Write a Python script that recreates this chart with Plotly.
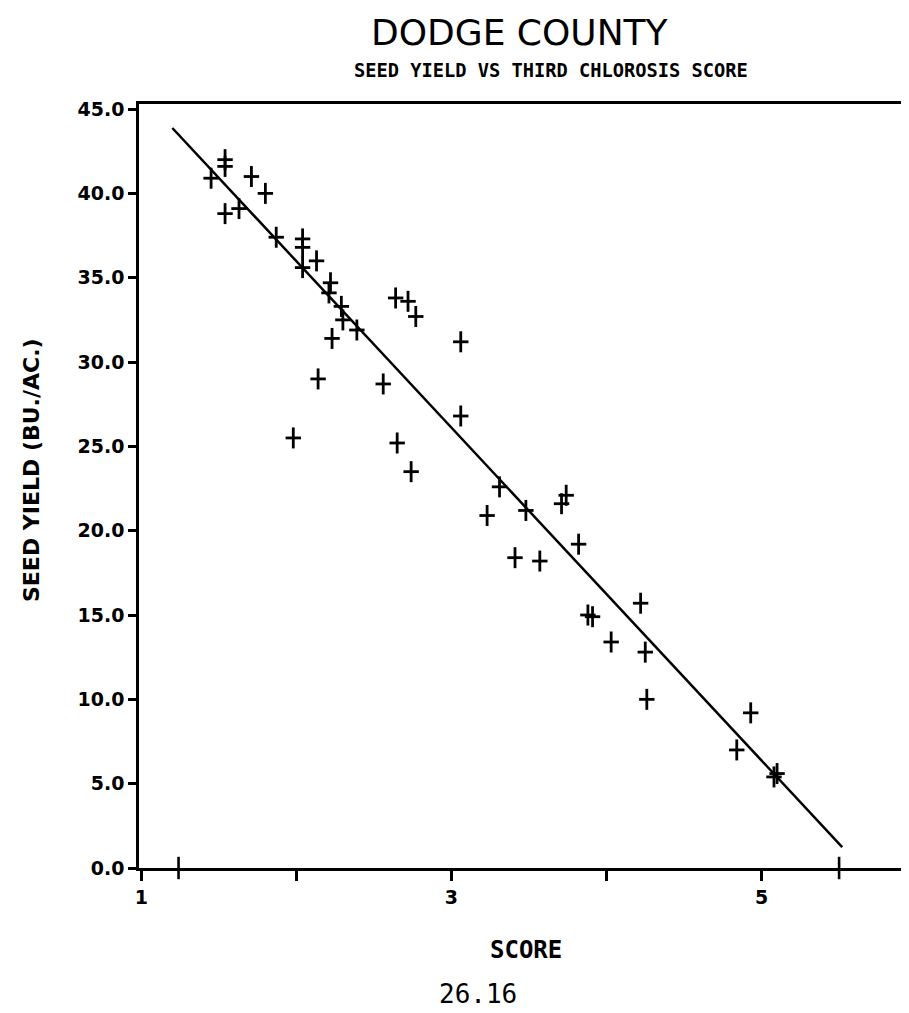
import plotly.graph_objects as go

# Data
score = [1.45, 1.54, 1.54, 1.54, 1.63, 1.71, 1.80, 1.87, 2.04, 2.04, 2.04, 2.13,
         2.22, 2.21, 2.29, 2.30, 2.39, 2.23, 2.14, 1.98, 2.56, 2.64, 2.72, 2.77,
         2.65, 2.74, 3.06, 3.06, 3.31, 3.23, 3.48, 3.71, 3.74, 3.82, 3.41, 3.57,
         3.88, 3.91, 4.03, 4.22, 4.25, 4.26, 4.93, 4.84, 5.08, 5.10]
seed_yield = [40.9, 42.0, 41.6, 38.8, 39.1, 41.0, 40.0, 37.4, 37.3, 36.8, 35.6, 36.0,
              34.7, 34.1, 33.3, 32.5, 31.9, 31.4, 29.0, 25.5, 28.7, 33.8, 33.6, 32.7,
              25.2, 23.5, 31.2, 26.8, 22.6, 20.9, 21.2, 21.6, 22.1, 19.2, 18.4, 18.2,
              15.0, 14.9, 13.4, 15.7, 12.8, 10.0, 9.2, 7.0, 5.4, 5.6]

fit_x = [1.2, 5.52]
fit_intercept = 55.72
fit_slope = -9.87
range_marks = [1.24, 5.5]

x_tickvals = [1, 2, 3, 4, 5]
x_ticktext = ["1", "", "3", "", "5"]
y_tickvals = [0, 5, 10, 15, 20, 25, 30, 35, 40, 45]
y_ticktext = ["%.1f" % v for v in y_tickvals]

fit_y = [fit_intercept + fit_slope * v for v in fit_x]

# page has an 8px body margin; compensate so the picture lines up with the window
OFF = 8
W, H = 909 - OFF, 1013 - OFF
l, r, t, b = 139 - OFF, 4, 104 - OFF, 145
pw, ph = W - l - r, H - t - b

fig = go.Figure()
fig.add_trace(go.Scatter(x=fit_x, y=fit_y, mode="lines",
                         line=dict(color="black", width=2.5), showlegend=False))
fig.add_trace(go.Scatter(x=score, y=seed_yield, mode="markers",
                         marker=dict(symbol="line-ns", size=15,
                                     line=dict(color="black", width=2.8)),
                         showlegend=False))
fig.add_trace(go.Scatter(x=score, y=seed_yield, mode="markers",
                         marker=dict(symbol="line-ew", size=11,
                                     line=dict(color="black", width=2.8)),
                         showlegend=False))
fig.add_trace(go.Scatter(x=range_marks, y=[0] * len(range_marks), mode="markers",
                         marker=dict(symbol="line-ns", size=16,
                                     line=dict(color="black", width=2.6)),
                         cliponaxis=False, showlegend=False))


def ann(text, px, py, size, family, weight="normal", angle=0):
    return dict(text=text, xref="paper", yref="paper",
                x=(px - OFF - l) / pw, y=(OFF + H - b - py) / ph,
                xanchor="center", yanchor="middle", showarrow=False, textangle=angle,
                borderpad=0,
                font=dict(family=family, size=size, color="black", weight=weight))


fig.update_layout(
    width=W, height=H,
    margin=dict(l=l, r=r, t=t, b=b),
    paper_bgcolor="white", plot_bgcolor="white",
    xaxis=dict(range=[0.985, 5.925], tickvals=x_tickvals, ticktext=x_ticktext,
               showgrid=False, zeroline=False, showline=True, linecolor="black",
               linewidth=2.5, mirror=True, ticks="outside", ticklen=10, tickwidth=2.5,
               tickcolor="black",
               tickfont=dict(family="DejaVu Sans", size=19, color="black", weight="bold")),
    yaxis=dict(range=[0, 45.3], tickvals=y_tickvals, ticktext=y_ticktext,
               showgrid=False, zeroline=False, showline=True, linecolor="black",
               linewidth=2.5, ticks="outside", ticklen=8, tickwidth=2.5,
               tickcolor="black",
               tickfont=dict(family="DejaVu Sans", size=19, color="black", weight="bold")),
    annotations=[
        ann("DODGE COUNTY", 520, 32, 36, "DejaVu Sans"),
        ann("SEED YIELD VS THIRD CHLOROSIS SCORE", 551, 70, 18.7, "DejaVu Sans Mono", "bold"),
        ann("SCORE", 526, 950, 24, "DejaVu Sans Mono", "bold"),
        ann("26.16", 478, 994, 26, "DejaVu Sans Mono"),
        ann("SEED YIELD (BU./AC.)", 31, 470, 22, "DejaVu Sans", "bold", -90),
    ],
)

fig.write_html("out.html")
